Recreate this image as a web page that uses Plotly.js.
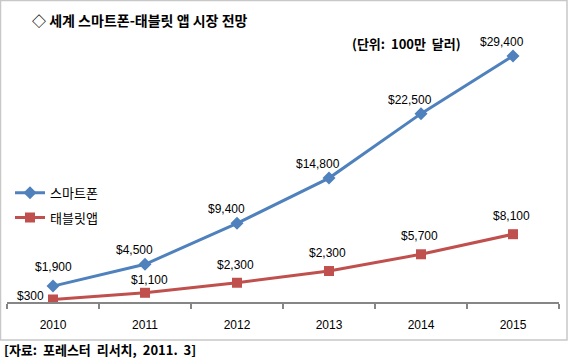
<!DOCTYPE html>
<html><head><meta charset="utf-8">
<script src="https://cdn.plot.ly/plotly-3.0.1.min.js"></script>
<style>html,body{margin:0;padding:0;background:#fff;}#chart{width:571px;height:361px;}</style>
</head><body><div id="chart"></div>
<script>
const years = ['2010','2011','2012','2013','2014','2015'];
const smartphone = [1900, 4500, 9400, 14800, 22500, 29400];
const tablet = [300, 1100, 2300, 3700, 5700, 8100];
const smartphoneLabels = ['$1,900','$4,500','$9,400','$14,800','$22,500','$29,400'];
const tabletLabels = ['$300','$1,100','$2,300','$2,300','$5,700','$8,100'];
const seriesNames = ['스마트폰', '태블릿앱'];
const titleText = '◇ 세계 스마트폰-태블릿 앱 시장 전망';
const unitText = '(단위:  100만  달러)';
const sourceText = '[자료:  포레스터  리서치,  2011.  3]';

const W = 571, H = 361;
const L = 7, R = 559, T = 9, B = 302.5;
const px = x => (x - L) / (R - L);
const py = y => (B - y) / (B - T);
const numFont = {family: 'Liberation Sans, Arial, sans-serif', size: 12, color: '#000'};
const krFont = 'Noto Sans CJK KR, sans-serif';

const traces = [
  {x: years, y: smartphone, name: seriesNames[0], type: 'scatter', mode: 'lines+markers',
   line: {color: '#4F81BD', width: 3}, marker: {symbol: 'diamond', size: 10, color: '#4F81BD'},
   legendgroup: 'a', hoverinfo: 'none'},
  {x: years, y: tablet, name: seriesNames[1], type: 'scatter', mode: 'lines+markers',
   line: {color: '#C0504D', width: 3}, marker: {symbol: 'square', size: 10, color: '#C0504D'},
   legendgroup: 'b', hoverinfo: 'none'}
];

const annotations = [];
smartphone.forEach((v, i) => annotations.push({x: i, y: v, xref: 'x', yref: 'y', text: smartphoneLabels[i],
  showarrow: false, xanchor: 'center', yanchor: 'bottom', xshift: i === 0 ? 0 : -11, yshift: i === 0 ? 10 : 5, font: numFont}));
tablet.forEach((v, i) => {
  if (i === 0) annotations.push({x: i, y: v, xref: 'x', yref: 'y', text: tabletLabels[i],
    showarrow: false, xanchor: 'right', yanchor: 'middle', xshift: -7, yshift: 3, font: numFont});
  else annotations.push({x: i, y: v, xref: 'x', yref: 'y', text: tabletLabels[i],
    showarrow: false, xanchor: 'center', yanchor: 'bottom', xshift: i === 1 ? 4 : -2, yshift: i === 1 ? 4 : 9, font: numFont});
});
annotations.push({xref: 'paper', yref: 'paper', x: px(30), y: py(20), xanchor: 'left', yanchor: 'middle',
  text: '<b>' + titleText + '</b>', showarrow: false, font: {family: krFont, size: 14, color: '#000'}});
annotations.push({xref: 'paper', yref: 'paper', x: px(350), y: py(44), xanchor: 'left', yanchor: 'middle',
  text: '<b>' + unitText + '</b>', showarrow: false, font: {family: krFont, size: 13, color: '#000'}});
annotations.push({xref: 'paper', yref: 'paper', x: px(2), y: py(350), xanchor: 'left', yanchor: 'middle',
  text: '<b>' + sourceText + '</b>', showarrow: false, font: {family: krFont, size: 13, color: '#000'}});

const layout = {
  width: W, height: H,
  margin: {l: L, r: W - R, t: T, b: H - B, pad: 0},
  paper_bgcolor: '#fff', plot_bgcolor: '#fff',
  showlegend: true,
  legend: {x: px(10), y: py(178), xanchor: 'left', yanchor: 'top', bgcolor: 'rgba(0,0,0,0)',
    font: {family: krFont, size: 13, color: '#000'}, tracegroupgap: 5, itemwidth: 30},
  xaxis: {type: 'category', range: [-0.5, 5.5], showgrid: false, zeroline: false,
    showline: true, linecolor: '#868686', linewidth: 1.5, ticks: 'outside', tickson: 'boundaries',
    ticklen: 5, tickcolor: '#868686', tickwidth: 1.5, fixedrange: true, ticklabelstandoff: 11,
    tickfont: {family: 'Liberation Sans, Arial, sans-serif', size: 12, color: '#000'}},
  yaxis: {range: [0, 35000], visible: false, showgrid: false, zeroline: false, fixedrange: true},
  shapes: [{type: 'rect', xref: 'paper', yref: 'paper', x0: px(0.5), x1: px(567), y0: py(340.5), y1: py(0.5),
    line: {color: '#c8c8c8', width: 1.5}, fillcolor: 'rgba(0,0,0,0)', layer: 'below'}],
  annotations: annotations
};
Plotly.newPlot('chart', traces, layout, {displayModeBar: false, staticPlot: true});
</script></body></html>
